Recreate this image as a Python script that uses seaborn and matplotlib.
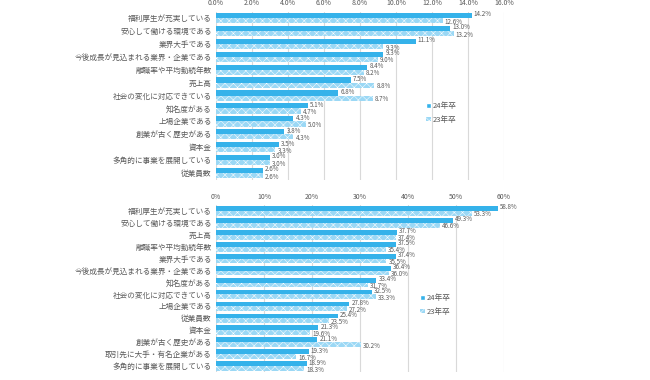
import pandas as pd
import matplotlib.pyplot as plt
import seaborn as sns
from matplotlib.patches import Patch
from matplotlib.ticker import FuncFormatter

# ---- data (top chart) ----
top_items = ['福利厚生が充実している', '安心して働ける環境である', '業界大手である',
             '今後成長が見込まれる業界・企業である', '離職率や平均勤続年数', '売上高',
             '社会の変化に対応できている', '知名度がある', '上場企業である',
             '創業が古く歴史がある', '資本金', '多角的に事業を展開している', '従業員数']
top_24 = [14.2, 13.0, 11.1, 9.3, 8.4, 7.5, 6.8, 5.1, 4.3, 3.8, 3.5, 3.0, 2.6]
top_23 = [12.6, 13.2, 9.3, 9.0, 8.2, 8.8, 8.7, 4.7, 5.0, 4.3, 3.3, 3.0, 2.6]

# ---- data (bottom chart) ----
bot_items = ['福利厚生が充実している', '安心して働ける環境である', '売上高',
             '離職率や平均勤続年数', '業界大手である', '今後成長が見込まれる業界・企業である',
             '知名度がある', '社会の変化に対応できている', '上場企業である', '従業員数',
             '資本金', '創業が古く歴史がある', '取引先に大手・有名企業がある',
             '多角的に事業を展開している']
bot_24 = [58.8, 49.3, 37.7, 37.5, 37.4, 36.4, 33.4, 32.5, 27.8, 25.4, 21.3, 21.1, 19.3, 18.9]
bot_23 = [53.3, 46.6, 37.4, 35.4, 35.5, 36.0, 31.7, 33.3, 27.2, 23.5, 19.6, 30.2, 16.7, 18.3]

years = ['24年卒', '23年卒']

sns.set_theme(style="white")
plt.rcParams['font.family'] = ['Noto Sans CJK JP', 'DejaVu Sans']
plt.rcParams['hatch.linewidth'] = 0.35

solid = '#35b2ea'
light = '#9bd8f5'
text_c = '#595959'


def make_df(items, v24, v23):
    return pd.concat([
        pd.DataFrame({'項目': items, '値': v24, '年': years[0]}),
        pd.DataFrame({'項目': items, '値': v23, '年': years[1]}),
    ], ignore_index=True)


def draw(ax, df, xmax, step, fmt, legend_xy):
    sns.barplot(data=df, y='項目', x='値', hue='年', hue_order=years,
                palette=[solid, light], saturation=1, orient='h', width=0.8,
                ax=ax, legend=False, linewidth=0)
    # checkered pattern on the 23年卒 bars
    for bar in ax.containers[1]:
        bar.set_hatch('xxxx')
        bar.set_edgecolor('white')
        bar.set_linewidth(0)
    # value labels, nudged apart a little so the pairs don't sit on top of each other
    for cont, dy in zip(ax.containers, [0.8, -0.8]):
        anns = ax.bar_label(cont, labels=[f'{b.get_width():.1f}%' for b in cont],
                            padding=1.5, fontsize=4.5, color=text_c)
        for a in anns:
            a.xyann = (1.5, dy)
    ax.set_xlim(0, xmax)
    ax.set_xticks([i * step for i in range(int(round(xmax / step)) + 1)])
    ax.xaxis.set_major_formatter(FuncFormatter(fmt))
    ax.xaxis.tick_top()
    ax.tick_params(axis='x', length=0, labelsize=5, colors=text_c, pad=3)
    ax.tick_params(axis='y', length=0, labelsize=5.5, colors=text_c, pad=3)
    ax.grid(axis='x', color='#d9d9d9', linewidth=0.8)
    ax.set_axisbelow(True)
    for s in ax.spines.values():
        s.set_visible(False)
    ax.set_xlabel('')
    ax.set_ylabel('')
    handles = [Patch(facecolor=solid, label=years[0]),
               Patch(facecolor=light, edgecolor='white', hatch='xxxx', linewidth=0, label=years[1])]
    ax.legend(handles=handles, loc='center left', bbox_to_anchor=legend_xy,
              bbox_transform=ax.figure.transFigure, frameon=False,
              handlelength=0.6, handleheight=0.6, handletextpad=0.2,
              labelspacing=0.75, fontsize=5.5, labelcolor=text_c)


fig = plt.figure(figsize=(6.5, 3.8), dpi=100)
ax1 = fig.add_axes([0.3323, 0.5276, 0.4431, 0.442])
ax2 = fig.add_axes([0.3323, 0.021, 0.4431, 0.4395])

draw(ax1, make_df(top_items, top_24, top_23), 16, 2,
     lambda v, p: f'{v:.1f}%', (0.645, 0.703))
draw(ax2, make_df(bot_items, bot_24, bot_23), 60, 10,
     lambda v, p: f'{v:.0f}%', (0.636, 0.198))

fig.savefig('out.png', dpi=100)
